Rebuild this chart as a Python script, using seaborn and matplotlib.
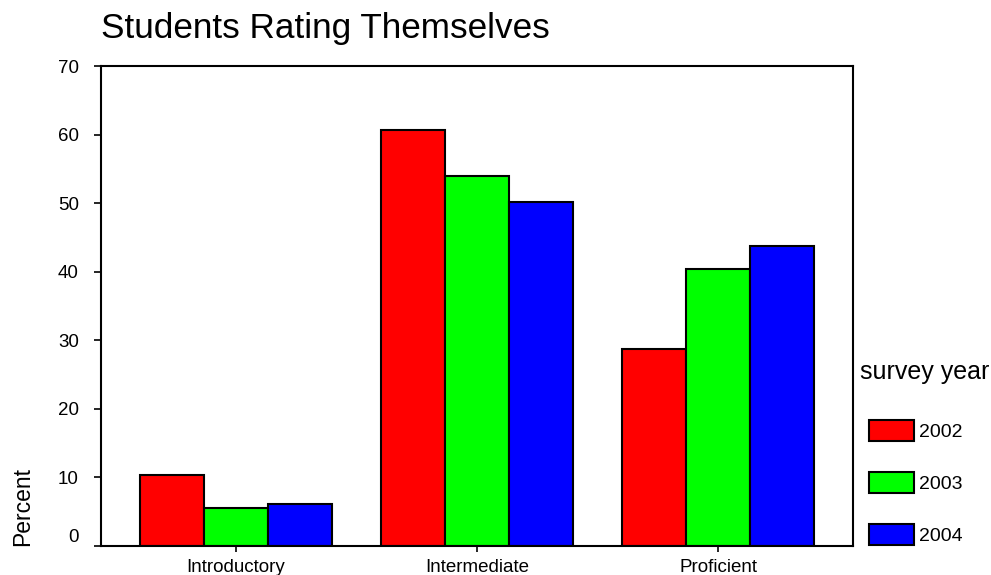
import numpy as np
import pandas as pd
import seaborn as sns
import matplotlib.pyplot as plt

levels = ['Introductory', 'Intermediate', 'Proficient']
years = ['2002', '2003', '2004']
pct_2002 = [10.3, 60.7, 28.8]
pct_2003 = [5.6, 54.0, 40.4]
pct_2004 = [6.1, 50.2, 43.7]
colors = ['#ff0000', '#00ff00', '#0000ff']

rows = []
for year, vals in zip(years, [pct_2002, pct_2003, pct_2004]):
    for lvl, v in zip(levels, vals):
        rows.append([lvl, year, v])
data = pd.DataFrame(rows, columns=['level', 'survey year', 'percent'])

sns.set_theme(style='white')
plt.rcParams['font.family'] = ['Liberation Sans', 'DejaVu Sans']
plt.rcParams['text.color'] = 'black'
plt.rcParams['axes.labelcolor'] = 'black'
plt.rcParams['xtick.color'] = 'black'
plt.rcParams['ytick.color'] = 'black'

fig = plt.figure(figsize=(9.91, 5.75), dpi=100)
ax = fig.add_axes([0.1019, 0.0504, 0.7589, 0.8348])

sns.barplot(data=data, x='level', y='percent', hue='survey year', order=levels,
            hue_order=years, palette=colors, saturation=1, width=0.8,
            edgecolor='black', linewidth=1.5, errorbar=None, ax=ax)

ax.set_xlim(-0.56, 2.56)
ax.set_ylim(0, 70)
ax.set_yticks(np.arange(0, 71, 10))
ax.set_xlabel('')
ax.set_ylabel('Percent', fontsize=16.5, loc='bottom', labelpad=17)
for s in ax.spines.values():
    s.set_color('black')
    s.set_linewidth(1.5)
ax.tick_params(axis='y', left=True, length=5, width=1.2, pad=11, labelsize=13.5)
ax.tick_params(axis='x', bottom=True, length=4, width=1.2, pad=5, labelsize=13.5)
ax.get_yticklabels()[0].set_va('bottom')

fig.text(0.102, 0.951, 'Students Rating Themselves', fontsize=25.3,
         ha='left', va='center')

# legend title drawn separately, entries are indented a little under it
fig.text(0.868, 1 - 372 / 575, 'survey year', fontsize=18, ha='left', va='center')
leg = ax.legend(loc='upper left', bbox_to_anchor=(0.877, 1 - 420 / 575),
                bbox_transform=fig.transFigure, frameon=False, fontsize=14,
                handlelength=2.3, handleheight=1.3, labelspacing=1.58,
                handletextpad=0.25, borderpad=0, borderaxespad=0)
for h in leg.legend_handles:
    h.set_edgecolor('black')
    h.set_linewidth(1.5)

plt.savefig('out.png', dpi=100)
